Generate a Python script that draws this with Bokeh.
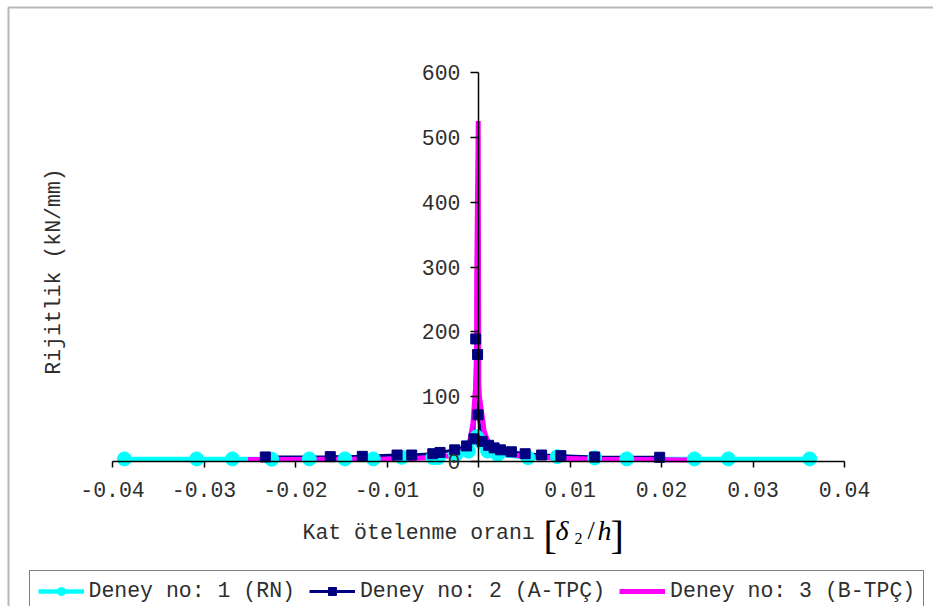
import math
from bokeh.plotting import figure
from bokeh.models import Range1d, FixedTicker, Label, Legend, LegendItem, BoxAnnotation
from bokeh.embed import file_html
from bokeh.resources import INLINE

# ---------------- data ----------------
x_ticks = [-0.04, -0.03, -0.02, -0.01, 0.0, 0.01, 0.02, 0.03, 0.04]
x_tick_labels = ["-0.04", "-0.03", "-0.02", "-0.01", "0", "0.01", "0.02", "0.03", "0.04"]
y_ticks = [0, 100, 200, 300, 400, 500, 600]

# Deney no: 1 (RN)
s1_x = [-0.0387, -0.0308, -0.0269, -0.0226, -0.0185, -0.0146, -0.0115, -0.0084, -0.0050, -0.0044,
        -0.0025, -0.0011, -0.0002, 0.0003, 0.0010, 0.0021, 0.0054, 0.0086, 0.0127, 0.0162,
        0.0236, 0.0273, 0.0362]
s1_y = [4, 4, 4, 3.5, 4, 4, 4, 6.5, 6, 6,
        10, 16, 38, 30, 16, 11, 6, 7.5, 5.5, 4,
        4, 4, 4]

# Deney no: 2 (A-TPC)
s2_x = [-0.0233, -0.0162, -0.0127, -0.0089, -0.0073, -0.0050, -0.0042, -0.0026, -0.0013, -0.0005,
        -0.0003, -0.0001, -0.00005, 0.0004, 0.0011, 0.0017, 0.0024, 0.0036, 0.0051, 0.0069,
        0.0090, 0.0127, 0.0198]
s2_y = [7, 7.5, 8, 10, 10, 12, 14, 18, 24, 35,
        189, 165, 72, 31, 25, 21, 18, 15, 12, 10,
        9, 7, 6.5]

# Deney no: 3 (B-TPC)
s3_x = [-0.0252, -0.020, -0.015, -0.011, -0.0075, -0.005, -0.0032, -0.0020, -0.0012, -0.0009,
        -0.0006, -0.0004, -0.00022, -0.0002, -0.00003, 0.00003, 0.0001, 0.0004, 0.0006, 0.0009,
        0.0013, 0.0020, 0.0030, 0.0045, 0.0065, 0.009, 0.013, 0.018, 0.023]
s3_y = [3, 3, 3.5, 3.5, 4.5, 6, 9, 14, 24, 35,
        60, 100, 130, 278, 525, 120, 100, 70, 48, 35,
        25, 17, 12, 9, 7, 5, 3.5, 3, 2.5]

labels = ["Deney no: 1 (RN)", "Deney no: 2 (A-TPÇ)", "Deney no: 3 (B-TPÇ)"]
colors = ["#00FFFF", "#000080", "#FF00FF"]

# ---------------- layout ----------------
W, H = 933, 606
# plot-area box inside the canvas (pixels)
FL, FR, FT, FB = 112, 89, 72, 145
FW, FH = W - FL - FR, H - FT - FB
X0, X1, Y0, Y1 = -0.04, 0.04, 0, 600
SX = (X1 - X0) / FW   # data per pixel
SY = (Y1 - Y0) / FH


def px2x(px):
    return X0 + (px - FL) * SX


def py2y(py):
    return Y0 + (FT + FH - py) * SY


MONO = "Liberation Mono"
SERIF = "Liberation Serif"
FS = "21.5px"
TXT = "#2e2e2e"

# the frame covers the whole canvas; axes cross at (0, 0)
p = figure(width=W, height=H, output_backend="svg", toolbar_location=None,
           x_range=Range1d(px2x(0), px2x(W)), y_range=Range1d(py2y(H), py2y(0)),
           min_border=0)
p.grid.visible = False
p.outline_line_color = None
p.background_fill_color = "white"
p.border_fill_color = "white"

# x axis
xa = p.xaxis[0]
xa.fixed_location = 0
xa.bounds = (X0, X1)
xa.ticker = FixedTicker(ticks=x_ticks)
xa.major_label_overrides = {t: l for t, l in zip(x_ticks, x_tick_labels)}
xa.minor_tick_line_color = None
xa.major_tick_in = 0
xa.major_tick_out = 6
xa.major_label_standoff = 14
xa.axis_line_color = "black"
xa.axis_line_width = 1.5
xa.major_tick_line_width = 1.5
xa.major_label_text_font = MONO
xa.major_label_text_font_size = FS
xa.major_label_text_color = TXT

# y axis
ya = p.yaxis[0]
ya.fixed_location = 0
ya.bounds = (Y0, Y1)
ya.ticker = FixedTicker(ticks=y_ticks)
ya.minor_tick_line_color = None
ya.major_tick_in = 0
ya.major_tick_out = 8
ya.major_label_standoff = 10
ya.axis_line_color = "black"
ya.axis_line_width = 1.5
ya.major_tick_line_width = 1.5
ya.major_label_text_font = MONO
ya.major_label_text_font_size = FS
ya.major_label_text_color = TXT

# series: all lines first, then markers on top
r1l = p.line(s1_x, s1_y, line_color=colors[0], line_width=4.5)
r2l = p.line(s2_x, s2_y, line_color=colors[1], line_width=3)
r3 = p.line(s3_x, s3_y, line_color=colors[2], line_width=5)
r1m = p.scatter(s1_x, s1_y, marker="circle", size=14, fill_color=colors[0], line_color=colors[0])
r2m = p.scatter(s2_x, s2_y, marker="square", size=10, fill_color=colors[1], line_color=colors[1])

# axis titles
p.add_layout(Label(x=px2x(53), y=py2y(271), text="Rijitlik (kN/mm)", angle=math.pi / 2,
                   text_align="center", text_baseline="middle",
                   text_font=MONO, text_font_size=FS, text_color=TXT))
p.add_layout(Label(x=px2x(302), y=py2y(532), text="Kat ötelenme oranı",
                   text_align="left", text_baseline="middle",
                   text_font=MONO, text_font_size=FS, text_color=TXT))
math_parts = [
    ("[", 543, 535, "40px", "normal"),
    ("δ", 555, 530, "28px", "italic"),
    ("2", 574, 538, "16px", "normal"),
    ("/", 587, 530, "26px", "normal"),
    ("h", 597, 530, "28px", "italic"),
    ("]", 610, 535, "40px", "normal"),
]
for t, px, py, fs, st in math_parts:
    p.add_layout(Label(x=px2x(px), y=py2y(py), text=t, text_align="left",
                       text_baseline="alphabetic", text_font=SERIF,
                       text_font_size=fs, text_font_style=st, text_color="black"))

# outer chart border
p.add_layout(BoxAnnotation(left=px2x(8), right=px2x(960), top=py2y(7), bottom=py2y(640),
                           fill_color=None, line_color="#111111", line_width=2))

# legend
legend = Legend(items=[
    LegendItem(label=labels[0], renderers=[r1l, r1m]),
    LegendItem(label=labels[1], renderers=[r2l, r2m]),
    LegendItem(label=labels[2], renderers=[r3]),
], orientation="horizontal", location=(28.5, -6),
    glyph_width=46, glyph_height=20, label_standoff=5, spacing=14, padding=8, margin=0,
    label_text_font=MONO, label_text_font_size=FS, label_text_color=TXT,
    border_line_color="black", border_line_width=1.2, background_fill_color="white",
    background_fill_alpha=1.0)
p.add_layout(legend, "center")

open("out.html", "w").write(file_html(p, INLINE))
